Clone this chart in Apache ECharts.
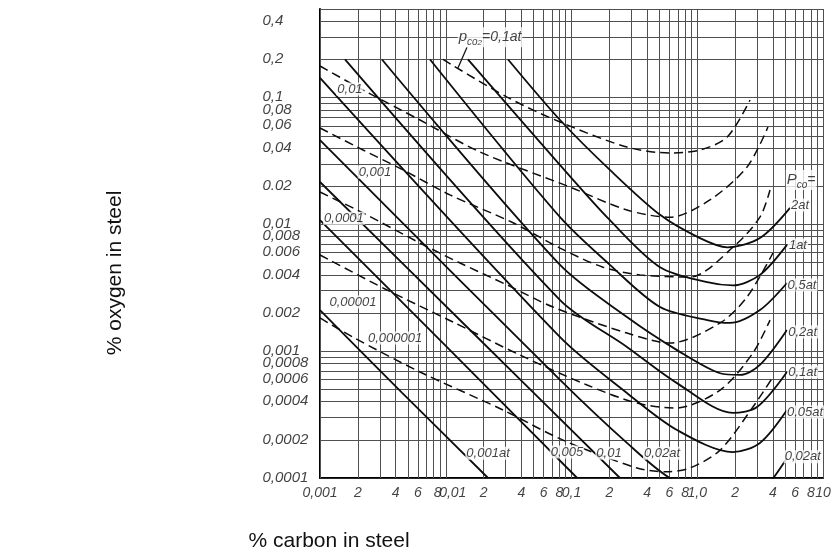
<!DOCTYPE html>
<html><head><meta charset="utf-8">
<script src="https://cdn.jsdelivr.net/npm/echarts@6/dist/echarts.min.js"></script>
<style>html,body{margin:0;padding:0;background:#fff}#c{width:832px;height:556px}</style>
</head><body><div id="c"></div>
<script>
// ---- axis ticks ----
const xTickValues = [0.001,0.002,0.004,0.006,0.008,0.01,0.02,0.04,0.06,0.08,0.1,0.2,0.4,0.6,0.8,1,2,4,6,8,10];
const xTickLabels = ['0,001','2','4','6','8','0,01','2','4','6','8','0,1','2','4','6','8','1,0','2','4','6','8','10'];
const yTickValues = [0.4,0.2,0.1,0.08,0.06,0.04,0.02,0.01,0.008,0.006,0.004,0.002,0.001,0.0008,0.0006,0.0004,0.0002,0.0001];
const yTickLabels = ['0,4','0,2','0,1','0,08','0,06','0,04','0.02','0,01','0,008','0.006','0.004','0.002','0,001','0,0008','0,0006','0,0004','0,0002','0,0001'];
// ---- grid line values ----
const xGridValues = [0.001,0.002,0.003,0.004,0.005,0.006,0.007,0.008,0.009,
  0.01,0.02,0.03,0.04,0.05,0.06,0.07,0.08,0.09,
  0.1,0.2,0.3,0.4,0.5,0.6,0.7,0.8,0.9,
  1,2,3,4,5,6,7,8,9,10];
const yGridValues = [0.0001,0.0002,0.0003,0.0004,0.0005,0.0006,0.0007,0.0008,0.0009,
  0.001,0.002,0.003,0.004,0.005,0.006,0.007,0.008,0.009,
  0.01,0.02,0.03,0.04,0.05,0.06,0.07,0.08,0.09,
  0.1,0.2,0.3,0.4,0.5];
// ---- P_CO isobars (solid): [% C, % O] ----
const pco_2at   = [[0.0313,0.2],[0.0811,0.0666],[0.202,0.0269],[0.506,0.0119],[1.05,0.0078],[1.73,0.0066],[3.15,0.0078],[5.47,0.0135]];
const pco_1at   = [[0.0150,0.2],[0.0811,0.0294],[0.202,0.0108],[0.506,0.0046],[1.20,0.0035],[1.92,0.0033],[3.15,0.0040],[5.17,0.0069]];
const pco_05at  = [[0.0075,0.2],[0.0811,0.0114],[0.202,0.0048],[0.506,0.00223],[1.20,0.00176],[1.82,0.00167],[3.15,0.00211],[5.17,0.00345]];
const pco_02at  = [[0.00311,0.2],[0.0811,0.00479],[0.276,0.00186],[0.690,0.00102],[1.52,0.00067],[2.19,0.00065],[3.15,0.00078],[5.17,0.00147]];
const pco_01at  = [[0.00158,0.2],[0.0811,0.00253],[0.276,0.00108],[0.690,0.00056],[1.92,0.000326],[2.99,0.000363],[5.17,0.000686]];
const pco_005at = [[0.001,0.143],[0.0811,0.00129],[0.276,0.000468],[0.690,0.000239],[1.92,0.00016],[3.15,0.000189],[5.17,0.000344]];
const pco_002at = [[0.001,0.0463],[0.0811,0.000593],[0.276,0.000189],[0.642,0.0000964],[1.92,0.0000647],[3.15,0.0000762],[5.17,0.000144]];
const pco_001at = [[0.001,0.0216],[0.0156,0.00147],[0.243,0.0001]];
const pco_0005at= [[0.001,0.0108],[0.01,0.0011],[0.111,0.0001]];
const pco_0001at= [[0.001,0.00211],[0.0045,0.00047],[0.0217,0.0001]];
// ---- P_CO2 isobars (dashed) ----
const pco2_01at     = [[0.00951,0.2],[0.0307,0.101],[0.0811,0.0642],[0.276,0.0408],[0.607,0.0366],[1.05,0.0386],[1.73,0.0489],[2.63,0.0958]];
const pco2_001      = [[0.001,0.1775],[0.0022,0.1148],[0.00624,0.0666],[0.0187,0.0373],[0.0973,0.0197],[0.276,0.0130],[0.607,0.0114],[1.26,0.0156],[2.49,0.0284],[3.65,0.0586]];
const pco2_0001     = [[0.001,0.0576],[0.0022,0.0386],[0.00457,0.0269],[0.0108,0.0171],[0.0343,0.0103],[0.0811,0.0065],[0.178,0.0046],[0.351,0.0040],[0.875,0.00385],[1.92,0.0066],[3.15,0.0114],[3.79,0.0187]];
const pco2_00001    = [[0.001,0.018],[0.0022,0.0123],[0.00624,0.00713],[0.013,0.00496],[0.0307,0.00333],[0.0713,0.00223],[0.276,0.00139],[0.607,0.00116],[1.52,0.00167],[2.49,0.00268],[4.0,0.00595]];
const pco2_000001   = [[0.001,0.00574],[0.00341,0.00304],[0.0114,0.0017],[0.0389,0.000933],[0.133,0.000541],[0.332,0.00039],[0.665,0.000356],[1.52,0.000494],[2.77,0.000968],[3.79,0.00176]];
const pco2_0000001  = [[0.001,0.00183],[0.00183,0.00129],[0.00624,0.000686],[0.0285,0.000344],[0.0856,0.000199],[0.332,0.00012],[0.575,0.000112],[0.875,0.00012],[1.52,0.000166],[2.77,0.000363],[4.0,0.000626]];
// ---- curve labels: [C, O, text] ----
const curveLabels = [
  [0.0225,0.30,'{i|p}{s|co}{s2|2}{n|=0,1at}'],
  [0.00173,0.117,'0,01'],
  [0.00274,0.0259,'0,001'],
  [0.00155,0.0112,'0,0001'],
  [0.00183,0.00244,'0,00001'],
  [0.00395,0.00127,'0,000001'],
  [0.0217,0.000157,'0,001at'],
  [0.092,0.00016,'0,005'],
  [0.1986,0.000157,'0,01'],
  [0.525,0.000157,'0,02at'],
  [6.7,0.0224,'{i|P}{s|co}{n|=}'],
  [6.56,0.0142,'2at'],
  [6.32,0.00689,'1at'],
  [6.81,0.00333,'0,5at'],
  [6.9,0.00142,'0,2at'],
  [6.9,0.000686,'0,1at'],
  [7.2,0.000332,'0,05at'],
  [6.9,0.000147,'0,02at']
];
const leader = [[0.01476,0.25],[0.0125,0.171]];
// small horizontal nudges of some x tick labels, as drawn in the original
const xLabelNudge = {'0.008':4, '0.01':7};

const X0 = 0.001, X1 = 10, Y0 = 0.0001, Y1 = 0.5;
const FF = '"Liberation Sans", Arial, sans-serif';

function curve(name, data, dashed) {
  return {type:'line', name, data, symbol:'none', smooth:0.3, clip:true, silent:true, z:3,
    lineStyle:{color:'#0d0d0d', width: dashed ? 1.5 : 1.8, type: dashed ? [9,5] : 'solid'}};
}

const series = [
  {type:'lines', coordinateSystem:'cartesian2d', silent:true, z:1,
   data: xGridValues.map(v => ({coords:[[v,Y0],[v,Y1]]})), lineStyle:{color:'#505050', width:1, opacity:1}},
  {type:'lines', coordinateSystem:'cartesian2d', silent:true, z:1,
   data: yGridValues.map(v => ({coords:[[X0,v],[X1,v]]})), lineStyle:{color:'#505050', width:1, opacity:1}},
  curve('2 at', pco_2at, false), curve('1 at', pco_1at, false), curve('0.5 at', pco_05at, false),
  curve('0.2 at', pco_02at, false), curve('0.1 at', pco_01at, false), curve('0.05 at', pco_005at, false),
  curve('0.02 at', pco_002at, false), curve('0.01 at', pco_001at, false), curve('0.005 at', pco_0005at, false),
  curve('0.001 at', pco_0001at, false),
  curve('CO2 0.1', pco2_01at, true), curve('CO2 0.01', pco2_001, true), curve('CO2 0.001', pco2_0001, true),
  curve('CO2 0.0001', pco2_00001, true), curve('CO2 0.00001', pco2_000001, true), curve('CO2 0.000001', pco2_0000001, true),
  {type:'line', data: leader, symbol:'none', silent:true, z:3, lineStyle:{color:'#111', width:1.2}},
  {type:'scatter', silent:true, clip:false, z:5, symbolSize:1, itemStyle:{color:'rgba(0,0,0,0)'},
   data: curveLabels.map(d => ({value:[d[0],d[1]], name:d[2]})),
   label:{show:true, position:'inside', formatter:'{b}', color:'#111', fontFamily:FF, fontStyle:'italic', fontSize:13,
     backgroundColor:'#fff', padding:[0,1],
     rich:{
       i:{fontFamily:FF, fontStyle:'italic', fontSize:15, color:'#111', lineHeight:20},
       s:{fontFamily:FF, fontStyle:'italic', fontSize:10, color:'#111', lineHeight:20, verticalAlign:'bottom'},
       s2:{fontFamily:FF, fontStyle:'italic', fontSize:8, color:'#111', lineHeight:15, verticalAlign:'bottom'},
       n:{fontFamily:FF, fontStyle:'italic', fontSize:14, color:'#111', lineHeight:20}
     }}},
  {type:'scatter', silent:true, clip:false, z:5, symbolSize:1, itemStyle:{color:'rgba(0,0,0,0)'},
   data: xTickValues.map((v,i) => ({value:[v,Y0], name:xTickLabels[i],
     label:{offset:[xLabelNudge[String(v)] || 0, 0]}})),
   label:{show:true, position:'bottom', distance:8, formatter:'{b}', color:'#111', fontFamily:FF, fontStyle:'italic', fontSize:14}},
  {type:'scatter', silent:true, clip:false, z:5, symbolSize:1, itemStyle:{color:'rgba(0,0,0,0)'},
   data: yTickValues.map((v,i) => ({value:[X0,v], name:yTickLabels[i]})),
   label:{show:true, position:[-57,0], align:'left', verticalAlign:'middle', formatter:'{b}', color:'#111', fontFamily:FF, fontStyle:'italic', fontSize:15}}
];

const chart = echarts.init(document.getElementById('c'));
chart.setOption({
  animation:false,
  backgroundColor:'#fff',
  grid:{left:320, right:9, top:9, bottom:78},
  xAxis:{type:'log', logBase:10, min:X0, max:X1,
    axisLine:{show:true, onZero:false, lineStyle:{color:'#000', width:2}},
    axisTick:{show:false}, axisLabel:{show:false}, splitLine:{show:false}},
  yAxis:{type:'log', logBase:10, min:Y0, max:Y1,
    axisLine:{show:true, onZero:false, lineStyle:{color:'#000', width:2}},
    axisTick:{show:false}, axisLabel:{show:false}, splitLine:{show:false}},
  graphic:[
    {type:'text', x:329, y:541, style:{text:'% carbon in steel', fontFamily:FF, fontSize:21, fill:'#111', align:'center', verticalAlign:'middle'}},
    {type:'text', x:115, y:273, rotation:Math.PI/2, style:{text:'% oxygen in steel', fontFamily:FF, fontSize:21, fill:'#111', align:'center', verticalAlign:'middle'}}
  ],
  series
});
</script>
</body></html>
